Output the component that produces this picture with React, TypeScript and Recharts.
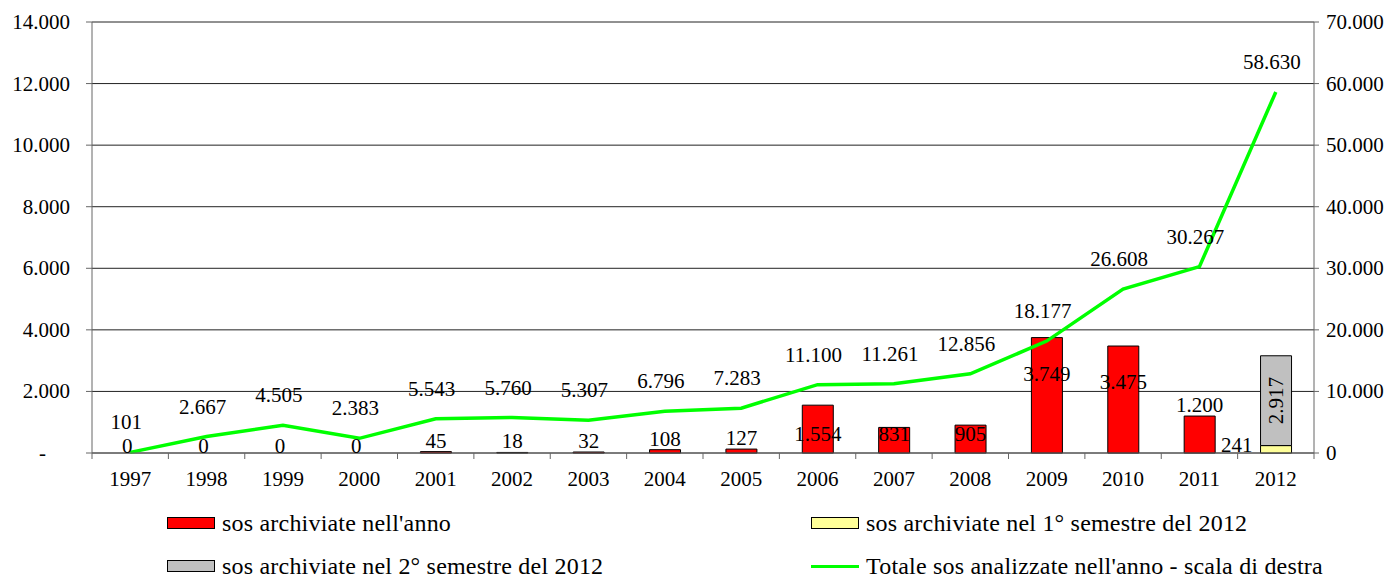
import {
  ComposedChart,
  Bar,
  Line,
  XAxis,
  YAxis,
  CartesianGrid,
  Legend,
  LabelList
} from 'recharts'

const anni = ['1997', '1998', '1999', '2000', '2001', '2002', '2003', '2004', '2005', '2006', '2007', '2008', '2009', '2010', '2011', '2012']
const archiviateAnno = [0, 0, 0, 0, 45, 18, 32, 108, 127, 1554, 831, 905, 3749, 3475, 1200, null]
const primoSemestre2012 = [null, null, null, null, null, null, null, null, null, null, null, null, null, null, null, 241]
const secondoSemestre2012 = [null, null, null, null, null, null, null, null, null, null, null, null, null, null, null, 2917]
const totaleAnalizzate = [101, 2667, 4505, 2383, 5543, 5760, 5307, 6796, 7283, 11100, 11261, 12856, 18177, 26608, 30267, 58630]
const tickSinistra = [0, 2000, 4000, 6000, 8000, 10000, 12000, 14000]
const tickDestra = [0, 10000, 20000, 30000, 40000, 50000, 60000, 70000]

// anni in cui l'etichetta della barra rossa sta dentro la barra
const anniEtichettaInterna = ['2006', '2007', '2008', '2009', '2010']

const dati = anni.map((anno, i) => ({
  anno,
  archiviate: archiviateAnno[i],
  primo: primoSemestre2012[i],
  secondo: secondoSemestre2012[i],
  totale: totaleAnalizzate[i]
}))

const FONT = "'Liberation Serif', 'DejaVu Serif', serif"
const LARGHEZZA = 1380
const ALTEZZA = 570
const ASSE_SX = 84
const ASSE_DX = 74
const BANDA = (LARGHEZZA - ASSE_SX - ASSE_DX) / anni.length

function fmt(n: number): string {
  return String(n).replace(/\B(?=(\d{3})+(?!\d))/g, '.')
}

const testo = { fontFamily: FONT, fontSize: 21, fill: '#000' }

// eslint-disable-next-line @typescript-eslint/no-explicit-any
function TickAnno({ x, y, payload, index }: any) {
  const sx = x - BANDA / 2
  const i = anni.indexOf(payload.value)
  return (
    <g>
      <line x1={sx} x2={sx} y1={y} y2={y + 6} stroke="#666" />
      {index === anni.length - 1 && (
        <line x1={x + BANDA / 2} x2={x + BANDA / 2} y1={y} y2={y + 6} stroke="#666" />
      )}
      {/* le barre a zero non vengono disegnate: etichetta "0" qui */}
      {archiviateAnno[i] === 0 && (
        <text x={x - 3} y={y - 7} textAnchor="middle" dominantBaseline="central" {...testo}>
          0
        </text>
      )}
      <text x={x} y={y + 26} textAnchor="middle" dominantBaseline="central" {...testo}>
        {payload.value}
      </text>
    </g>
  )
}

// eslint-disable-next-line @typescript-eslint/no-explicit-any
function TickSinistra({ x, y, payload }: any) {
  const zero = payload.value === 0
  return (
    <text x={zero ? x - 24 : x} y={y} textAnchor="end" dominantBaseline="central" {...testo}>
      {zero ? '-' : fmt(payload.value)}
    </text>
  )
}

// eslint-disable-next-line @typescript-eslint/no-explicit-any
function TickDestra({ x, y, payload }: any) {
  return (
    <text x={x} y={y} textAnchor="start" dominantBaseline="central" {...testo}>
      {fmt(payload.value)}
    </text>
  )
}

// eslint-disable-next-line @typescript-eslint/no-explicit-any
function EtichettaRossa({ x, y, width, height, value }: any) {
  const i = anni.indexOf(String(value))
  const v = archiviateAnno[i]
  if (v == null) return null
  const dentro = anniEtichettaInterna.includes(String(value))
  const cy = dentro ? Math.min(y + 36, y + height - 19) : y - 11
  return (
    <text x={x + width / 2} y={cy} textAnchor="middle" dominantBaseline="central" {...testo}>
      {fmt(v)}
    </text>
  )
}

// eslint-disable-next-line @typescript-eslint/no-explicit-any
function EtichettaGialla({ x, y, height, value }: any) {
  if (value == null) return null
  return (
    <text x={x - 8} y={y + height / 2 - 4} textAnchor="end" dominantBaseline="central" {...testo}>
      {fmt(value)}
    </text>
  )
}

// eslint-disable-next-line @typescript-eslint/no-explicit-any
function EtichettaGrigia({ x, y, width, height, value }: any) {
  if (value == null) return null
  const cx = x + width / 2
  const cy = y + height / 2
  return (
    <text
      x={cx}
      y={cy}
      textAnchor="middle"
      dominantBaseline="central"
      transform={`rotate(-90 ${cx} ${cy})`}
      {...testo}
    >
      {fmt(value)}
    </text>
  )
}

// eslint-disable-next-line @typescript-eslint/no-explicit-any
function EtichettaLinea({ x, y, value }: any) {
  return (
    <text x={x - 4} y={y - 30} textAnchor="middle" dominantBaseline="central" {...testo}>
      {fmt(value)}
    </text>
  )
}

function Voce({ left, top, tipo, colore, label }: { left: number; top: number; tipo: 'box' | 'line'; colore: string; label: string }) {
  return (
    <div style={{ position: 'absolute', left, top, display: 'flex', alignItems: 'center', height: 28 }}>
      {tipo === 'box' ? (
        <div style={{ width: 46, height: 10, background: colore, border: '1px solid #000' }} />
      ) : (
        <div style={{ width: 48, height: 3, background: colore }} />
      )}
      <span style={{ marginLeft: 7, fontFamily: FONT, fontSize: 24, letterSpacing: 0.2, color: '#000', whiteSpace: 'nowrap' }}>
        {label}
      </span>
    </div>
  )
}

function Legenda() {
  return (
    <div style={{ position: 'relative', width: LARGHEZZA, height: 85 }}>
      <Voce left={159} top={16} tipo="box" colore="#FF0000" label="sos archiviate nell'anno" />
      <Voce left={803} top={16} tipo="box" colore="#FFFF99" label="sos archiviate nel 1° semestre del 2012" />
      <Voce left={159} top={59} tipo="box" colore="#C0C0C0" label="sos archiviate nel 2° semestre del 2012" />
      <Voce left={803} top={59} tipo="line" colore="#00FF00" label="Totale sos analizzate nell'anno - scala di destra" />
    </div>
  )
}

export default function App() {
  return (
    <ComposedChart
      width={LARGHEZZA}
      height={ALTEZZA}
      data={dati}
      margin={{ top: 14, right: 0, left: 0, bottom: 0 }}
      barCategoryGap="30%"
    >
      <CartesianGrid vertical={false} stroke="#222" yAxisId="sx" />
      <XAxis
        dataKey="anno"
        height={40}
        tickSize={0}
        tickMargin={0}
        interval={0}
        tick={<TickAnno />}
        stroke="#666"
      />
      <YAxis
        yAxisId="sx"
        orientation="left"
        width={ASSE_SX}
        domain={[0, 14000]}
        ticks={tickSinistra}
        interval={0}
        tickSize={6}
        tickMargin={16}
        tick={<TickSinistra />}
        stroke="#666"
      />
      <YAxis
        yAxisId="dx"
        orientation="right"
        width={ASSE_DX}
        domain={[0, 70000]}
        ticks={tickDestra}
        interval={0}
        tickSize={5}
        tickMargin={7}
        tick={<TickDestra />}
        stroke="#666"
      />
      <Legend
        verticalAlign="bottom"
        content={<Legenda />}
        wrapperStyle={{ left: 0, width: LARGHEZZA, height: 85 }}
      />
      <Bar yAxisId="sx" dataKey="archiviate" stackId="a" fill="#FF0000" stroke="#000" strokeWidth={1} isAnimationActive={false}>
        <LabelList dataKey="anno" content={<EtichettaRossa />} />
      </Bar>
      <Bar yAxisId="sx" dataKey="primo" stackId="a" fill="#FFFF99" stroke="#000" strokeWidth={1} isAnimationActive={false}>
        <LabelList dataKey="primo" content={<EtichettaGialla />} />
      </Bar>
      <Bar yAxisId="sx" dataKey="secondo" stackId="a" fill="#C0C0C0" stroke="#000" strokeWidth={1} isAnimationActive={false}>
        <LabelList dataKey="secondo" content={<EtichettaGrigia />} />
      </Bar>
      <Line
        yAxisId="dx"
        type="linear"
        dataKey="totale"
        stroke="#00FF00"
        strokeWidth={3.5}
        dot={false}
        activeDot={false}
        isAnimationActive={false}
      >
        <LabelList dataKey="totale" content={<EtichettaLinea />} />
      </Line>
    </ComposedChart>
  )
}
